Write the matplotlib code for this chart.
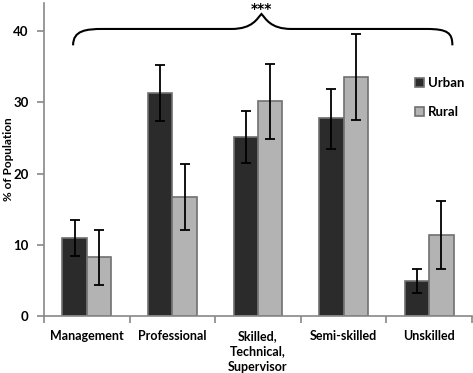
import numpy as np
import matplotlib.pyplot as plt
from matplotlib.path import Path
from matplotlib.patches import PathPatch

plt.rcParams['font.family'] = ['Lato', 'DejaVu Sans']
plt.rcParams['font.weight'] = 'bold'

# data
categories = ['Management', 'Professional', 'Skilled,\nTechnical,\nSupervisor', 'Semi-skilled', 'Unskilled']
urban = [11.0, 31.3, 25.1, 27.8, 4.9]
urban_hi = [13.5, 35.3, 28.8, 31.9, 6.6]
urban_lo = [8.4, 27.4, 21.5, 23.5, 3.2]
rural = [8.3, 16.7, 30.2, 33.5, 11.4]
rural_hi = [12.0, 21.3, 35.4, 39.6, 16.2]
rural_lo = [4.4, 12.0, 24.9, 27.5, 6.6]

urban = np.array(urban)
rural = np.array(rural)
urban_err = [urban - np.array(urban_lo), np.array(urban_hi) - urban]
rural_err = [rural - np.array(rural_lo), np.array(rural_hi) - rural]

fig = plt.figure(figsize=(4.73, 3.73), dpi=100)
ax = fig.add_axes([0.093, 0.153, 0.905, 0.84])

x = np.arange(len(categories))
w = 0.285
edge = '#707070'
ax.bar(x - w / 2, urban, width=w, color='#2b2b2b', edgecolor=edge, linewidth=1.2, label='Urban')
ax.bar(x + w / 2, rural, width=w, color='#b3b3b3', edgecolor=edge, linewidth=1.2, label='Rural')
ax.errorbar(x - w / 2, urban, yerr=urban_err, fmt='none', ecolor='black', elinewidth=1.3, capsize=3.5, capthick=1.3)
ax.errorbar(x + w / 2, rural, yerr=rural_err, fmt='none', ecolor='black', elinewidth=1.3, capsize=3.5, capthick=1.3)

ax.set_xlim(-0.5, 4.5)
ax.set_ylim(0, 44)
ax.set_yticks([0, 10, 20, 30, 40])
ax.set_xticks(np.arange(-0.5, 5, 1))
ax.set_xticklabels([])
ax.set_xticks(x, minor=True)
ax.set_xticklabels(categories, minor=True, fontsize=9, fontweight='bold', va='top', linespacing=1.35)
ax.tick_params(axis='x', which='minor', length=0, pad=10)
ax.tick_params(axis='x', which='major', length=5, color='#888888', width=1.2, direction='out')
ax.tick_params(axis='y', length=5, color='#888888', width=1.2, labelsize=9.5, pad=6)
for lbl in ax.get_yticklabels():
    lbl.set_fontweight('bold')

for s in ['top', 'right']:
    ax.spines[s].set_visible(False)
for s in ['left', 'bottom']:
    ax.spines[s].set_color('#888888')
    ax.spines[s].set_linewidth(1.2)

ax.set_ylabel('% of Population', fontsize=8.5, fontweight='bold')
ax.yaxis.set_label_coords(-0.069, 0.5)

leg = ax.legend(loc='upper right', bbox_to_anchor=(1.01, 0.80), frameon=False, fontsize=9.5,
                handlelength=0.7, handleheight=0.7, labelspacing=1.3, handletextpad=0.3)

# significance brace
x0, x1, xm = -0.16, 4.27, 2.04
y0, y1, ym = 38.0, 40.3, 42.4
verts = [
    (x0, y0), (x0, y1 - 0.2), (x0 + 0.15, y1), (x0 + 0.35, y1),
    (xm - 0.35, y1),
    (xm - 0.1, y1), (xm - 0.05, ym - 0.6), (xm, ym),
    (xm + 0.05, ym - 0.6), (xm + 0.1, y1), (xm + 0.35, y1),
    (x1 - 0.3, y1),
    (x1 - 0.05, y1), (x1, y1 - 0.6), (x1, y0),
]
codes = [Path.MOVETO, Path.CURVE4, Path.CURVE4, Path.CURVE4,
         Path.LINETO,
         Path.CURVE4, Path.CURVE4, Path.CURVE4,
         Path.CURVE4, Path.CURVE4, Path.CURVE4,
         Path.LINETO,
         Path.CURVE4, Path.CURVE4, Path.CURVE4]
ax.add_patch(PathPatch(Path(verts, codes), facecolor='none', edgecolor='black', linewidth=1.5, clip_on=False))
ax.text(xm, 43.1, '***', ha='center', va='center', fontsize=10, fontweight='bold',
        family='DejaVu Sans', clip_on=False)

fig.savefig('out.png', dpi=100)
